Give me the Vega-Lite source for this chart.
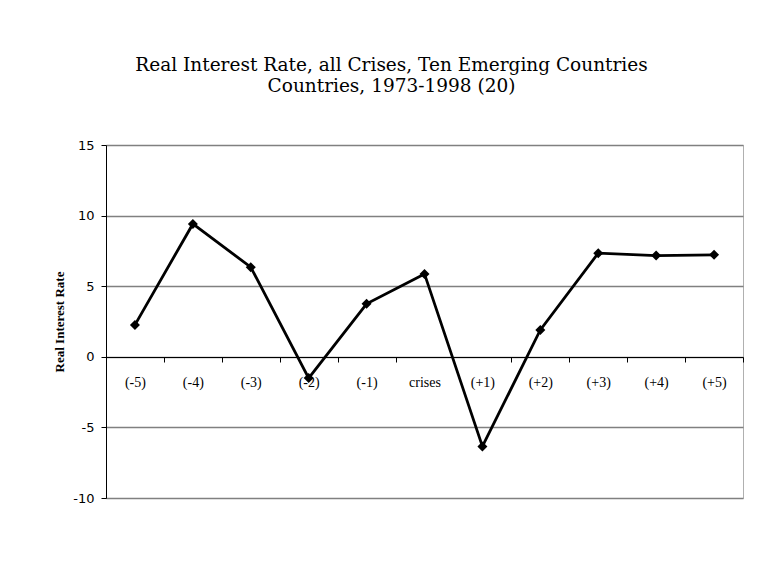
{
  "$schema": "https://vega.github.io/schema/vega-lite/v6.json",
  "autosize": "none",
  "width": 637,
  "height": 353,
  "padding": {"left": 106, "top": 145, "right": 27, "bottom": 81},
  "background": "white",
  "title": {
    "text": ["Real Interest Rate, all Crises, Ten Emerging Countries", "Countries, 1973-1998 (20)"],
    "font": "DejaVu Serif",
    "fontSize": 18.5,
    "fontWeight": "normal",
    "color": "black",
    "anchor": "middle",
    "dx": -33,
    "offset": 44,
    "lineHeight": 21
  },
  "config": {
    "view": {"stroke": "#b0b0b0", "strokeWidth": 1}
  },
  "data": {
    "values": [
      {"period": "(-5)", "rate": 2.26},
      {"period": "(-4)", "rate": 9.41},
      {"period": "(-3)", "rate": 6.35},
      {"period": "(-2)", "rate": -1.51},
      {"period": "(-1)", "rate": 3.75},
      {"period": "crises", "rate": 5.87},
      {"period": "(+1)", "rate": -6.35},
      {"period": "(+2)", "rate": 1.9},
      {"period": "(+3)", "rate": 7.34},
      {"period": "(+4)", "rate": 7.17},
      {"period": "(+5)", "rate": 7.22}
    ]
  },
  "encoding": {
    "x": {
      "field": "period",
      "type": "ordinal",
      "sort": null,
      "scale": {"paddingInner": 0, "paddingOuter": 0},
      "axis": {
        "title": null,
        "labelAngle": 0,
        "offset": -141,
        "tickBand": "extent",
        "domainColor": "black",
        "domainWidth": 1,
        "tickColor": "black",
        "tickSize": 5,
        "labelFont": "Liberation Serif",
        "labelFontSize": 14,
        "labelColor": "black",
        "labelPadding": 20,
        "labelBaseline": "middle",
        "grid": false
      }
    },
    "y": {
      "field": "rate",
      "type": "quantitative",
      "scale": {"domain": [-10, 15], "nice": false, "zero": false},
      "axis": {
        "title": "Real Interest Rate",
        "titleFont": "Liberation Serif",
        "titleFontSize": 13,
        "titleFontWeight": "bold",
        "titleColor": "black",
        "titlePadding": 6,
        "values": [-10, -5, 0, 5, 10, 15],
        "labelExpr": "'' + datum.value",
        "labelFont": "DejaVu Sans",
        "labelFontSize": 13,
        "labelColor": "black",
        "labelPadding": 7,
        "tickColor": "black",
        "tickSize": 5,
        "domainColor": "black",
        "grid": true,
        "gridColor": "#808080",
        "gridWidth": 1.3,
        "gridOpacity": 1
      }
    }
  },
  "layer": [
    {
      "mark": {"type": "line", "color": "black", "strokeWidth": 2.8}
    },
    {
      "mark": {"type": "point", "shape": "diamond", "filled": true, "color": "black", "size": 100, "opacity": 1}
    }
  ]
}
